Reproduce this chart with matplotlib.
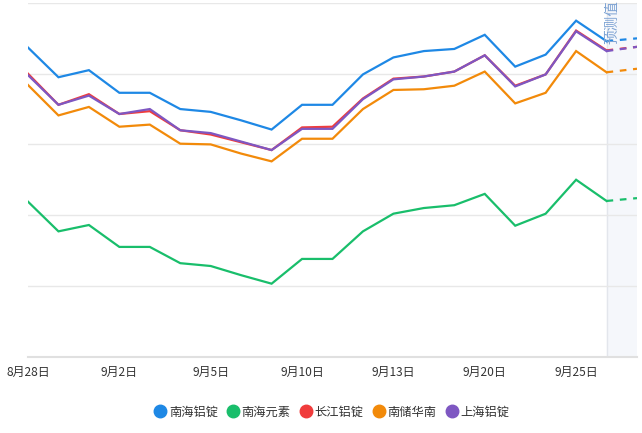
import matplotlib
matplotlib.use("Agg")
import matplotlib.pyplot as plt
from matplotlib.lines import Line2D

plt.rcParams["font.family"] = ["Noto Sans CJK SC", "DejaVu Sans"]

# 20 trading days plus one forecast day
dates = ["8月28日", "8月29日", "9月1日", "9月2日", "9月3日", "9月4日", "9月5日",
         "9月8日", "9月9日", "9月10日", "9月11日", "9月12日", "9月13日", "9月15日",
         "9月17日", "9月20日", "9月22日", "9月23日", "9月25日", "9月26日", "9月27日"]
shown = ["8月28日", "9月2日", "9月5日", "9月10日", "9月13日", "9月20日", "9月25日"]

nanhai_ingot = [20837, 20795, 20805, 20773, 20773, 20750, 20746, 20734, 20721, 20756,
                20756, 20799, 20823, 20832, 20835, 20855, 20810, 20827, 20875, 20846]
nanhai_other = [20619, 20577, 20586, 20555, 20555, 20532, 20528, 20515, 20503, 20538,
                20538, 20577, 20602, 20610, 20614, 20630, 20585, 20602, 20650, 20620]
changjiang = [20800, 20756, 20771, 20743, 20747, 20720, 20714, 20703, 20692, 20724,
              20725, 20765, 20793, 20796, 20803, 20826, 20783, 20799, 20861, 20833]
nanchu_sc = [20784, 20741, 20753, 20725, 20728, 20701, 20700, 20687, 20676, 20708,
             20708, 20750, 20777, 20778, 20783, 20803, 20758, 20773, 20832, 20802]
shanghai = [20798, 20756, 20769, 20743, 20750, 20720, 20716, 20704, 20692, 20722,
            20722, 20764, 20792, 20796, 20803, 20826, 20782, 20799, 20860, 20832]

# forecast values for the next day
forecast = {"南海铝锭": 20850, "南海元素": 20624, "长江铝锭": 20838,
            "南储华南": 20807, "上海铝锭": 20838}

series = [
    ("南海铝锭", nanhai_ingot, "#1e88e5"),
    ("南海元素", nanhai_other, "#19be6b"),
    ("长江铝锭", changjiang, "#f03c3c"),
    ("南储华南", nanchu_sc, "#f28a0a"),
    ("上海铝锭", shanghai, "#7e57c2"),
]

W, H = 642, 433
fig = plt.figure(figsize=(W / 100, H / 100), dpi=100)
ax = fig.add_axes([28 / W, (H - 356.5) / H, (637 - 28) / W, (356.5 - 3) / H])

n = len(nanhai_ingot)
xs = list(range(n))
last = n - 1

# forecast zone
ax.axvspan(last, len(dates) - 1, color="#f5f7fb", zorder=0)
ax.axvline(last, color="#e3e6ec", lw=1, zorder=1)

for name, vals, color in series:
    ax.plot(xs, vals, color=color, lw=1.6, zorder=3, solid_joinstyle="miter")
    ax.plot([last, last + 1], [vals[-1], forecast[name]], color=color, lw=1.6,
            dashes=(3, 3), zorder=3)

ax.set_xlim(0, len(dates) - 1)
ax.set_ylim(20400, 20900)
ax.set_yticks(range(20400, 20901, 100))
ax.set_yticklabels([])
ax.yaxis.grid(True, color="#e8e8e8", lw=1)
ax.tick_params(axis="y", length=0)

ticks = [dates.index(d) for d in shown]
ax.set_xticks(ticks)
ax.set_xticklabels(shown, fontsize=8.6, color="#333333")
ax.tick_params(axis="x", length=0, pad=6.5)

for s in ["top", "right", "left"]:
    ax.spines[s].set_visible(False)
ax.spines["bottom"].set_color("#e0e0e0")
ax.spines["bottom"].set_linewidth(1.5)

fig.text(605 / W, 1 - 0 / H, "预测值", rotation=90, ha="left", va="top",
         fontsize=10.5, color="#7fa4d4")

handles = [Line2D([], [], ls="", marker="o", ms=9, color=c) for _, _, c in series]
fig.legend(handles, [s[0] for s in series], loc="center", ncol=5,
           bbox_to_anchor=(332 / W, 1 - 412 / H), frameon=False, fontsize=8.8,
           handletextpad=0.25, columnspacing=0.8, handlelength=0.9,
           labelcolor="#333333")

fig.savefig("out.png", dpi=100)
